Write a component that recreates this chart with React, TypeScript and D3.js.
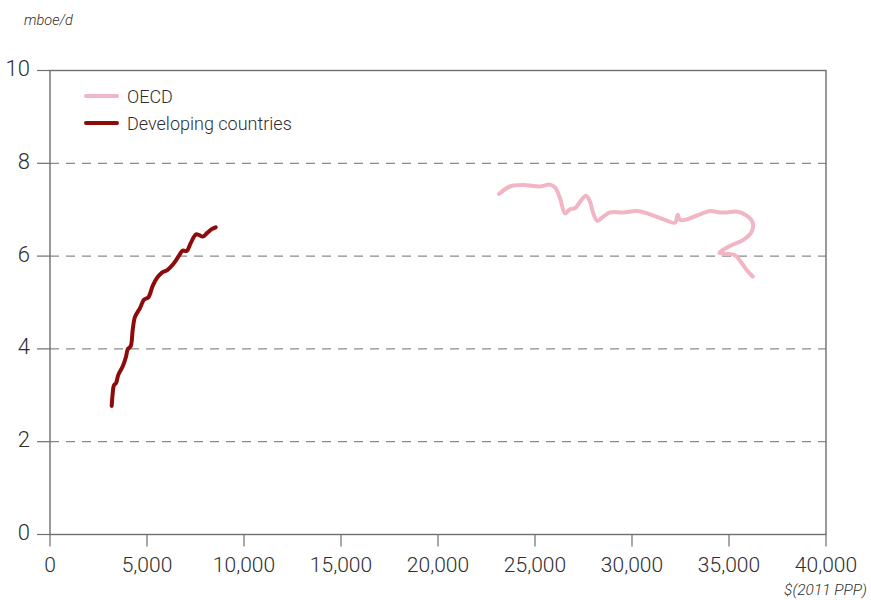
import React from "react";
import * as d3 from "d3";

const oecdGdp = [23144, 23711, 24397, 25258, 25773, 26031, 26289, 26546, 26804, 27062, 27320, 27629, 27835, 28005, 28211, 28521, 28866, 29552, 30242, 30928, 31701, 32216, 32356, 32474, 32820, 33505, 34021, 34536, 34881, 35397, 35912, 36222, 36170, 35737, 35052, 34500, 34794, 35309, 35567, 35912, 36222];
const oecdOil = [7.34, 7.5, 7.53, 7.5, 7.54, 7.48, 7.25, 6.92, 7.01, 7.03, 7.17, 7.3, 7.17, 6.92, 6.76, 6.85, 6.94, 6.94, 6.97, 6.9, 6.78, 6.72, 6.89, 6.78, 6.79, 6.9, 6.97, 6.94, 6.94, 6.96, 6.87, 6.72, 6.53, 6.35, 6.22, 6.07, 6.05, 6.02, 5.9, 5.7, 5.56];

const devGdp = [3180, 3232, 3299, 3402, 3521, 3747, 3918, 4005, 4160, 4263, 4381, 4639, 4845, 5067, 5294, 5500, 5758, 6046, 6356, 6665, 6840, 7046, 7253, 7526, 7696, 7871, 8108, 8335, 8541];
const devOil = [2.77, 3.04, 3.22, 3.26, 3.44, 3.62, 3.83, 3.99, 4.06, 4.41, 4.69, 4.88, 5.06, 5.11, 5.36, 5.52, 5.64, 5.7, 5.83, 6.02, 6.12, 6.11, 6.28, 6.47, 6.45, 6.42, 6.5, 6.58, 6.62];

const xTicks = [0, 5000, 10000, 15000, 20000, 25000, 30000, 35000, 40000];
const yTicks = [0, 2, 4, 6, 8, 10];
const gridTicks = [2, 4, 6, 8];

const seriesNames = ["OECD", "Developing countries"];
const seriesColors = ["#f2b5c3", "#8e0b0b"];

const W = 871;
const H = 600;
const left = 50, right = 826, top = 70.5, bottom = 534.5;

export default function App() {
  const x = d3.scaleLinear().domain([0, 40000]).range([left, right]);
  const y = d3.scaleLinear().domain([0, 10]).range([bottom, top]);
  const line = d3
    .line<[number, number]>()
    .x((d) => x(d[0]))
    .y((d) => y(d[1]))
    .curve(d3.curveCatmullRom.alpha(0.5));

  const oecdData: [number, number][] = oecdGdp.map((g, i) => [g, oecdOil[i]]);
  const devData: [number, number][] = devGdp.map((g, i) => [g, devOil[i]]);
  const fmt = d3.format(",");
  const font = "Roboto, 'Liberation Sans', sans-serif";
  const axisColor = "#6f6f6f";
  const textColor = "#2e2e2e";

  return (
    <svg width={W} height={H} style={{ position: "absolute", left: 0, top: 0 }}>
      <rect width={W} height={H} fill="#fff" />
      {gridTicks.map((t) => (
        <line key={t} x1={left} x2={right} y1={y(t)} y2={y(t)} stroke="#8a8a8a" strokeWidth={1.2} strokeDasharray="9,7" />
      ))}
      <rect x={left} y={top} width={right - left} height={bottom - top} fill="none" stroke={axisColor} strokeWidth={1.4} />
      {yTicks.map((t) => (
        <g key={t}>
          <line x1={left - 13} x2={left} y1={y(t)} y2={y(t)} stroke={axisColor} strokeWidth={1.2} />
          <text x={30} y={y(t) - 2} textAnchor="end" dominantBaseline="central" fontFamily={font} fontWeight={300} fontSize={22} fill={textColor}>
            {t}
          </text>
        </g>
      ))}
      {xTicks.map((t) => (
        <g key={t}>
          <line x1={x(t)} x2={x(t)} y1={bottom} y2={bottom + 12} stroke={axisColor} strokeWidth={1.2} />
          <text x={x(t)} y={572} textAnchor="middle" fontFamily={font} fontWeight={300} fontSize={21} fill={textColor}>
            {fmt(t)}
          </text>
        </g>
      ))}
      <text x={24} y={25} fontFamily={font} fontStyle="italic" fontWeight={300} fontSize={14.5} fill={textColor}>
        mboe/d
      </text>
      <text x={867} y={595} textAnchor="end" fontFamily={font} fontStyle="italic" fontWeight={300} fontSize={15.5} fill={textColor}>
        $(2011 PPP)
      </text>
      <path d={line(oecdData) || ""} fill="none" stroke={seriesColors[0]} strokeWidth={4} strokeLinecap="round" strokeLinejoin="round" />
      <path d={line(devData) || ""} fill="none" stroke={seriesColors[1]} strokeWidth={4} strokeLinecap="round" strokeLinejoin="round" />
      {seriesNames.map((n, i) => (
        <g key={n}>
          <line x1={86} x2={117} y1={96 + i * 27} y2={96 + i * 27} stroke={seriesColors[i]} strokeWidth={4} strokeLinecap="round" />
          <text x={127} y={96 + i * 27} dominantBaseline="central" fontFamily={font} fontWeight={300} fontSize={18} fill={textColor}>
            {n}
          </text>
        </g>
      ))}
    </svg>
  );
}
